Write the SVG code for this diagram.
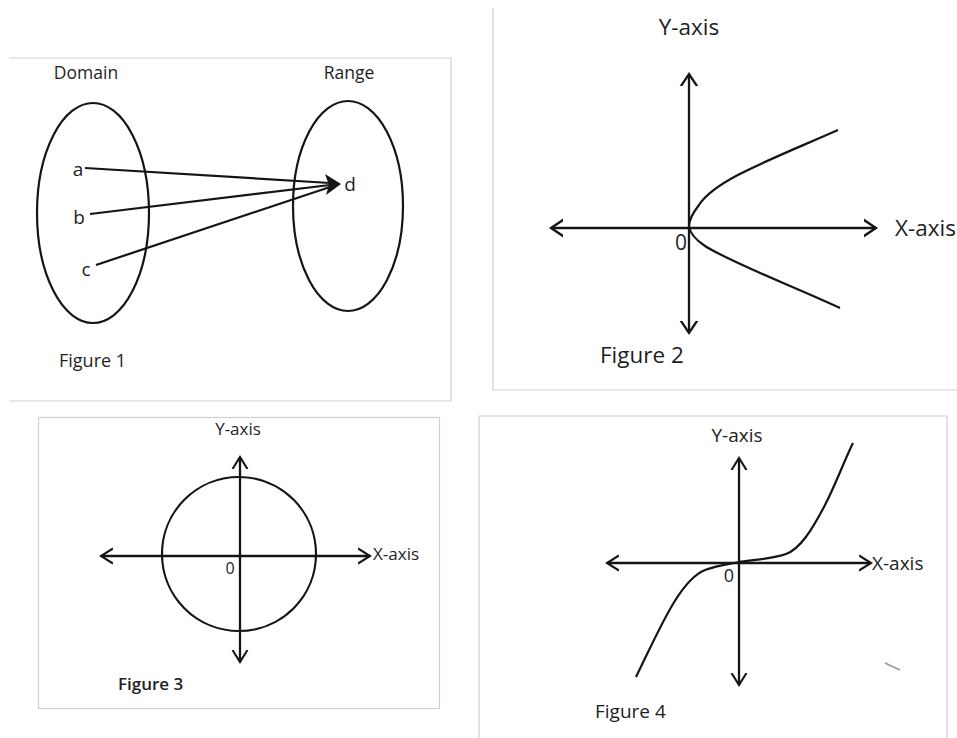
<svg xmlns="http://www.w3.org/2000/svg" width="957" height="738" viewBox="0 0 957 738">
<style>
.t{font-family:"Open Sans",Lato,"Liberation Sans",sans-serif;fill:#1e1e1e}
.ln{stroke:#151515;stroke-width:2.2;fill:none}
.ax{stroke:#151515;stroke-width:2.3;fill:none}
.frame{stroke:#d0d0d0;stroke-width:1.2;fill:none}
</style>
<defs>
<marker id="chev" markerUnits="userSpaceOnUse" markerWidth="24" markerHeight="24" refX="12" refY="12" orient="auto-start-reverse" viewBox="0 0 24 24">
<path d="M -1.5 3 L 12 12 L -1.5 21" fill="none" stroke="#151515" stroke-width="2.3"/>
</marker>
<marker id="chevS" markerUnits="userSpaceOnUse" markerWidth="24" markerHeight="24" refX="12" refY="12" orient="auto-start-reverse" viewBox="0 0 24 24">
<path d="M 0 4.5 L 12 12 L 0 19.5" fill="none" stroke="#151515" stroke-width="2.1"/>
</marker>
</defs>
<rect width="957" height="738" fill="#fff"/>

<!-- Figure 1 -->
<g id="figure1">
<path class="frame" d="M 9 58 L 451 58 L 451 401 L 9 401"/>
<text class="t" x="86" y="79" font-size="17.5" text-anchor="middle">Domain</text>
<text class="t" x="349" y="79" font-size="17.5" text-anchor="middle">Range</text>
<g id="domain"><ellipse class="ln" cx="93" cy="213" rx="56" ry="110"/></g>
<g id="range"><ellipse class="ln" cx="348" cy="206" rx="55" ry="105"/></g>
<g id="node-a"><text class="t" x="78" y="176" font-size="19" text-anchor="middle">a</text></g>
<g id="node-b"><text class="t" x="79" y="224" font-size="19" text-anchor="middle">b</text></g>
<g id="node-c"><text class="t" x="86" y="276" font-size="19" text-anchor="middle">c</text></g>
<g id="node-d"><text class="t" x="350" y="191" font-size="19" text-anchor="middle">d</text></g>
<g id="connectors">
<line class="ln" x1="85" y1="168" x2="330" y2="183"/>
<line class="ln" x1="90" y1="214" x2="330" y2="185"/>
<line class="ln" x1="96" y1="265" x2="330" y2="187"/>
<polygon points="341,184 325,174 329,185 326,195" fill="#151515"/>
</g>
<text class="t" x="59" y="367" font-size="18">Figure 1</text>
</g>

<!-- Figure 2 -->
<g id="figure2">
<path class="frame" d="M 493 8 L 493 390 L 957 390"/>
<text class="t" x="689" y="35" font-size="22.5" text-anchor="middle">Y-axis</text>
<line class="ax" x1="689" y1="333" x2="689" y2="74" marker-start="url(#chev)" marker-end="url(#chev)"/>
<line class="ax" x1="551" y1="228" x2="876" y2="228" marker-start="url(#chev)" marker-end="url(#chev)"/>
<text class="t" x="895" y="236" font-size="22.5">X-axis</text>
<text class="t" x="681" y="250" font-size="21" text-anchor="middle">0</text>
<path class="ln" d="M 838 130 C 770 160 715 180 699 205 Q 689 218 689 226 Q 690 236 705 246 C 730 262 790 285 840 308"/>
<text class="t" x="600" y="363" font-size="22.5">Figure 2</text>
</g>

<!-- Figure 3 -->
<g id="figure3">
<rect class="frame" x="38.5" y="417.5" width="401" height="291"/>
<text class="t" x="238" y="435" font-size="17" text-anchor="middle">Y-axis</text>
<circle class="ln" cx="239" cy="554" r="77"/>
<line class="ax" x1="240" y1="662" x2="240" y2="457" marker-start="url(#chevS)" marker-end="url(#chevS)"/>
<line class="ax" x1="101" y1="556" x2="370" y2="556" marker-start="url(#chevS)" marker-end="url(#chevS)"/>
<text class="t" x="373" y="560" font-size="17">X-axis</text>
<text class="t" x="230" y="574" font-size="16" text-anchor="middle">0</text>
<text class="t" x="118" y="690" font-size="17" font-weight="600">Figure 3</text>
</g>

<!-- Figure 4 -->
<g id="figure4">
<path class="frame" d="M 479 738 L 479 416 L 947 416 L 947 738"/>
<text class="t" x="737" y="442" font-size="19" text-anchor="middle">Y-axis</text>
<line class="ax" x1="739" y1="685" x2="739" y2="458" marker-start="url(#chevS)" marker-end="url(#chevS)"/>
<line class="ax" x1="607" y1="563" x2="871" y2="563" marker-start="url(#chevS)" marker-end="url(#chevS)"/>
<text class="t" x="872" y="570" font-size="19">X-axis</text>
<text class="t" x="729" y="582" font-size="18" text-anchor="middle">0</text>
<path class="ln" d="M 636 677 C 660 628 680 580 705 570 C 718 565 730 564 739 562 C 752 560 772 559 786 554 C 800 549 812 530 825 505 C 836 484 844 461 853 443"/>
<path d="M 885 663 L 900 670" stroke="#999" stroke-width="1.6" fill="none"/>
<text class="t" x="595" y="718" font-size="19">Figure 4</text>
</g>
</svg>
